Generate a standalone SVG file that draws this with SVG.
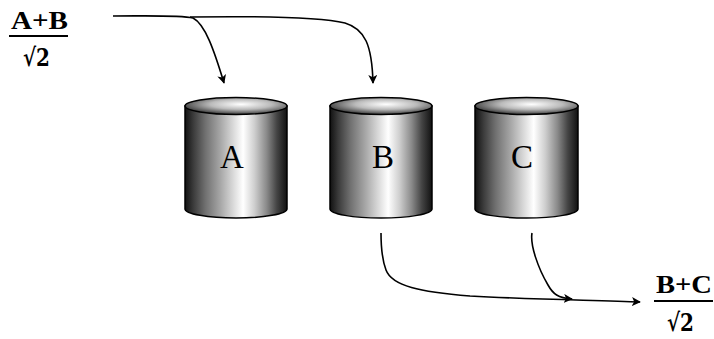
<svg xmlns="http://www.w3.org/2000/svg" width="714" height="339" viewBox="0 0 714 339">
<style>
.body{fill:url(#cyl);stroke:#000;stroke-width:1.5}
.cap{fill:url(#capg);stroke:#000;stroke-width:1.5}
.lbl{font-family:"Liberation Serif","Times New Roman",serif;font-size:33px;fill:#000;text-anchor:middle}
.frac{font-family:"Liberation Serif","Times New Roman",serif;font-size:25px;font-weight:bold;fill:#000}
.rad{font-family:"DejaVu Serif","Liberation Serif",serif;font-size:25px;font-weight:bold;fill:#000}
.conn{fill:none;stroke:#000;stroke-width:1.6}
</style>
<defs>
<linearGradient id="cyl" x1="0" y1="0" x2="1" y2="0">
<stop offset="0" stop-color="#111"/>
<stop offset="0.08" stop-color="#3a3a3a"/>
<stop offset="0.2" stop-color="#707070"/>
<stop offset="0.35" stop-color="#a8a8a8"/>
<stop offset="0.48" stop-color="#dcdcdc"/>
<stop offset="0.57" stop-color="#ffffff"/>
<stop offset="0.68" stop-color="#cfcfcf"/>
<stop offset="0.8" stop-color="#8a8a8a"/>
<stop offset="0.9" stop-color="#444"/>
<stop offset="1" stop-color="#111"/>
</linearGradient>
<radialGradient id="capg" cx="0.55" cy="0.4" r="0.6">
<stop offset="0" stop-color="#ffffff"/>
<stop offset="0.5" stop-color="#bbbbbb"/>
<stop offset="1" stop-color="#3a3a3a"/>
</radialGradient>
<marker id="arr" viewBox="0 0 10 10" refX="9" refY="5" markerWidth="9" markerHeight="9" markerUnits="userSpaceOnUse" orient="auto">
<path d="M0,0 L10,5 L0,10 L2.5,5 Z" fill="#000"/>
</marker>
</defs>

<g id="connectors">
<path class="conn" d="M113,16 C150,16 180,15 193,18 C205,24 214,50 224,83" marker-end="url(#arr)"/>
<path class="conn" d="M190,17 C260,16 320,17 345,23 C365,29 372,45 373,83" marker-end="url(#arr)"/>
<path class="conn" d="M381,233 C381,250 383,262 386,270 C392,286 420,292 470,296 C540,300 600,300 640,302" marker-end="url(#arr)"/>
<path class="conn" d="M532,233 C530,245 538,268 548,285 C553,294 558,298 572,299" marker-end="url(#arr)"/>
</g>

<g id="node-ab">
<text class="frac" x="11" y="29" textLength="57" lengthAdjust="spacingAndGlyphs">A+B</text>
<line x1="9" y1="36" x2="68" y2="36" stroke="#000" stroke-width="2.2"/>
<text class="rad" x="23" y="66" textLength="27" lengthAdjust="spacingAndGlyphs">√2</text>
</g>

<g id="node-a">
<path class="body" d="M185,106 L185,209 A51,9 0 0 0 287,209 L287,106 Z"/>
<ellipse class="cap" cx="236" cy="106" rx="51" ry="8.5"/>
<text class="lbl" x="232" y="168">A</text>
</g>

<g id="node-b">
<path class="body" d="M330,106 L330,209 A51,9 0 0 0 432,209 L432,106 Z"/>
<ellipse class="cap" cx="381" cy="106" rx="51" ry="8.5"/>
<text class="lbl" x="383" y="168">B</text>
</g>

<g id="node-c">
<path class="body" d="M475,106 L475,209 A51.5,9 0 0 0 578,209 L578,106 Z"/>
<ellipse class="cap" cx="526.5" cy="106" rx="51.5" ry="8.5"/>
<text class="lbl" x="522" y="168">C</text>
</g>

<g id="node-bc">
<text class="frac" x="656" y="293" textLength="56" lengthAdjust="spacingAndGlyphs">B+C</text>
<line x1="654" y1="301" x2="713" y2="301" stroke="#000" stroke-width="2.2"/>
<text class="rad" x="667" y="331" textLength="27" lengthAdjust="spacingAndGlyphs">√2</text>
</g>
</svg>
